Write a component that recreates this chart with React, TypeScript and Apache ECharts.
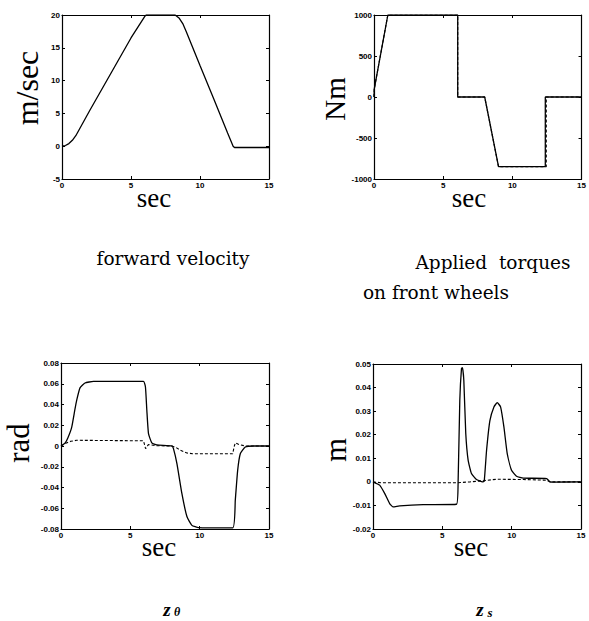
import React, { useEffect, useRef } from "react";
import * as echarts from "echarts";

// forward velocity (m/sec)
const velT = [0, 0.25, 0.5, 0.75, 1, 1.5, 2, 3, 4, 5, 6, 6.1, 7, 8, 8.2, 8.5, 8.75, 9, 10, 11, 12, 12.4, 12.5, 15];
const velV = [0, 0.1, 0.4, 0.9, 1.6, 3.5, 5.4, 9.1, 12.8, 16.5, 19.8, 20, 20, 20, 20, 19.5, 18.7, 17.5, 12.3, 7.2, 2.0, 0, -0.2, -0.2];

// applied torques (Nm)
const torqT = [0, 0.02, 1.0, 6.05, 6.05, 8.0, 9.0, 12.38, 12.38, 15];
const torqV = [0, 100, 1000, 1000, 0, 0, -850, -850, 0, 0];
const torq2T = [0, 0.02, 1.0, 6.05, 6.05, 8.0, 9.0, 12.45, 12.45, 15];
const torq2V = [0, 100, 1000, 1000, 0, 0, -850, -850, 0, 0];

// z_theta (rad)
const zthT = [0, 0.3, 0.5, 0.77, 1.0, 1.13, 1.37, 1.73, 2.34, 5.95, 6.09, 6.19, 6.31, 6.55, 6.91, 8.0, 8.11, 8.36, 8.72, 9.08, 9.44, 9.92, 12.38, 12.57, 12.74, 12.93, 13.29, 13.9, 15];
const zthV = [0, 0.003, 0.008, 0.018, 0.035, 0.044, 0.056, 0.0607, 0.0623, 0.0623, 0.0569, 0.0344, 0.0119, 0.003, 0.001, 0, -0.0026, -0.017, -0.046, -0.068, -0.0765, -0.0787, -0.079, -0.052, -0.0235, -0.0074, -0.001, 0, 0];
const zthDT = [0, 0.2, 0.41, 0.7, 1.13, 5.95, 6.1, 6.3, 6.9, 8.0, 8.3, 8.6, 9.08, 9.5, 12.38, 12.5, 12.57, 12.8, 13.3, 15];
const zthDV = [0, 0.0015, 0.003, 0.0045, 0.0055, 0.005, -0.0026, 0.0013, 0.0003, 0, -0.0015, -0.004, -0.0067, -0.0075, -0.0075, 0, 0.003, 0.0016, 0, 0];

// z_s (m)
const zsT = [0, 0.48, 0.84, 1.2, 1.44, 1.93, 3.61, 6.02, 6.14, 6.26, 6.38, 6.45, 6.55, 6.69, 6.86, 7.1, 7.46, 7.9, 8.02, 8.19, 8.43, 8.72, 8.96, 9.2, 9.44, 9.68, 9.99, 10.35, 10.84, 12.52, 12.76, 13, 15];
const zsV = [0, -0.0014, -0.0049, -0.0092, -0.0106, -0.0102, -0.0097, -0.0095, 0.0007, 0.0346, 0.048, 0.0485, 0.043, 0.0205, 0.0092, 0.0035, 0.001, 0, 0.0003, 0.0134, 0.026, 0.0318, 0.0336, 0.0318, 0.0233, 0.012, 0.0049, 0.0024, 0.0016, 0.0014, 0, -0.0001, 0];
const zsDT = [0, 0.6, 6.0, 7.0, 7.95, 8.9, 10.84, 12.5, 12.76, 15];
const zsDV = [0, -0.0004, -0.0004, 0, 0.0005, 0.0011, 0.001, 0.0007, 0, 0];

const pairs = (t: number[], v: number[]) => t.map((x, i) => [x, v[i]]);

export default function App() {
  const ref = useRef<HTMLDivElement>(null);
  useEffect(() => {
    document.body.style.margin = "0";
    const chart = echarts.init(ref.current!, null, { renderer: "svg" });

    const grids = [
      { left: 62, top: 15, width: 207, height: 164 },
      { left: 374, top: 15, width: 208, height: 164 },
      { left: 61, top: 363, width: 208, height: 166 },
      { left: 373, top: 364, width: 208, height: 165 },
    ];
    const yConf = [
      { min: -5, max: 20, interval: 5, fmt: (v: number) => String(v) },
      { min: -1000, max: 1000, interval: 500, fmt: (v: number) => String(v) },
      { min: -0.08, max: 0.08, interval: 0.02, fmt: (v: number) => (Math.abs(v) < 1e-9 ? "0" : v.toFixed(2)) },
      { min: -0.02, max: 0.05, interval: 0.01, fmt: (v: number) => (Math.abs(v) < 1e-9 ? "0" : v.toFixed(2)) },
    ];
    const tickFont = { fontFamily: "Liberation Sans", fontWeight: "bold" as const, fontSize: 8, color: "#000" };

    const xAxis: any[] = [];
    const yAxis: any[] = [];
    grids.forEach((g, i) => {
      xAxis.push({
        type: "value", gridIndex: i, min: 0, max: 15, interval: 5, position: "bottom",
        axisLine: { show: true, onZero: false, lineStyle: { color: "#000", width: 1.2 } },
        axisTick: { show: true, inside: true, length: 3, lineStyle: { color: "#000" } },
        axisLabel: { ...tickFont, margin: 2 },
        splitLine: { show: false },
      });
      xAxis.push({
        type: "value", gridIndex: i, min: 0, max: 15, interval: 5, position: "top",
        axisLine: { show: true, onZero: false, lineStyle: { color: "#000", width: 1.2 } },
        axisTick: { show: true, inside: true, length: 3, lineStyle: { color: "#000" } },
        axisLabel: { show: false },
        splitLine: { show: false },
      });
      const y = yConf[i];
      yAxis.push({
        type: "value", gridIndex: i, min: y.min, max: y.max, interval: y.interval, position: "left",
        axisLine: { show: true, onZero: false, lineStyle: { color: "#000", width: 1.2 } },
        axisTick: { show: true, inside: true, length: 3, lineStyle: { color: "#000" } },
        axisLabel: { ...tickFont, margin: 2, formatter: y.fmt },
        splitLine: { show: false },
      });
      yAxis.push({
        type: "value", gridIndex: i, min: y.min, max: y.max, interval: y.interval, position: "right",
        axisLine: { show: true, onZero: false, lineStyle: { color: "#000", width: 1.2 } },
        axisTick: { show: true, inside: true, length: 3, lineStyle: { color: "#000" } },
        axisLabel: { show: false },
        splitLine: { show: false },
      });
    });

    const line = (i: number, t: number[], v: number[], dashed = false) => ({
      type: "line", xAxisIndex: i * 2, yAxisIndex: i * 2, data: pairs(t, v),
      showSymbol: false, symbol: "none", silent: true, smooth: dashed ? false : 0.15,
      lineStyle: { color: "#000", width: dashed ? 1.1 : 1.3, type: dashed ? [3, 2] : "solid" },
    });

    const series = [
      { ...line(0, velT, velV), smooth: false },
      line(1, torq2T, torq2V, true),
      { ...line(1, torqT, torqV), smooth: false },
      line(2, zthDT, zthDV, true),
      line(2, zthT, zthV),
      line(3, zsDT, zsDV, true),
      line(3, zsT, zsV),
    ];

    const txt = (x: number, y: number, text: string, size: number, extra: any = {}) => ({
      type: "text", x, y,
      style: { text, fontFamily: extra.font || "Liberation Serif", fontSize: size, fill: "#000", textAlign: extra.align || "center", textVerticalAlign: "middle", ...extra.style },
      rotation: extra.rotation || 0,
    });
    const title = "DejaVu Serif";
    const zStyle = { fontStyle: "italic", fontWeight: "bold" };

    const graphic = [
      txt(27, 88, "m/sec", 32, { rotation: Math.PI / 2 }),
      txt(335, 99, "Nm", 29, { rotation: Math.PI / 2 }),
      txt(18, 443, "rad", 31, { rotation: Math.PI / 2 }),
      txt(335, 450, "m", 31, { rotation: Math.PI / 2 }),
      txt(154, 198, "sec", 27),
      txt(469, 198, "sec", 27),
      txt(159, 547, "sec", 27),
      txt(471, 547, "sec", 27),
      txt(173, 258, "forward velocity", 18.5, { font: title }),
      txt(493, 262, "Applied  torques", 18.5, { font: title }),
      txt(436, 292, "on front wheels", 18.5, { font: title }),
      txt(167, 609, "z", 19, { style: zStyle }),
      txt(177, 612, "θ", 12, { style: zStyle }),
      txt(480, 609, "z", 19, { style: zStyle }),
      txt(490, 612, "s", 13, { style: zStyle }),
    ];

    chart.setOption({
      animation: false,
      backgroundColor: "#fff",
      grid: grids.map((g) => ({ ...g, containLabel: false })),
      xAxis,
      yAxis,
      series,
      graphic,
    });
    return () => chart.dispose();
  }, []);
  return <div ref={ref} style={{ width: 589, height: 621 }} />;
}
